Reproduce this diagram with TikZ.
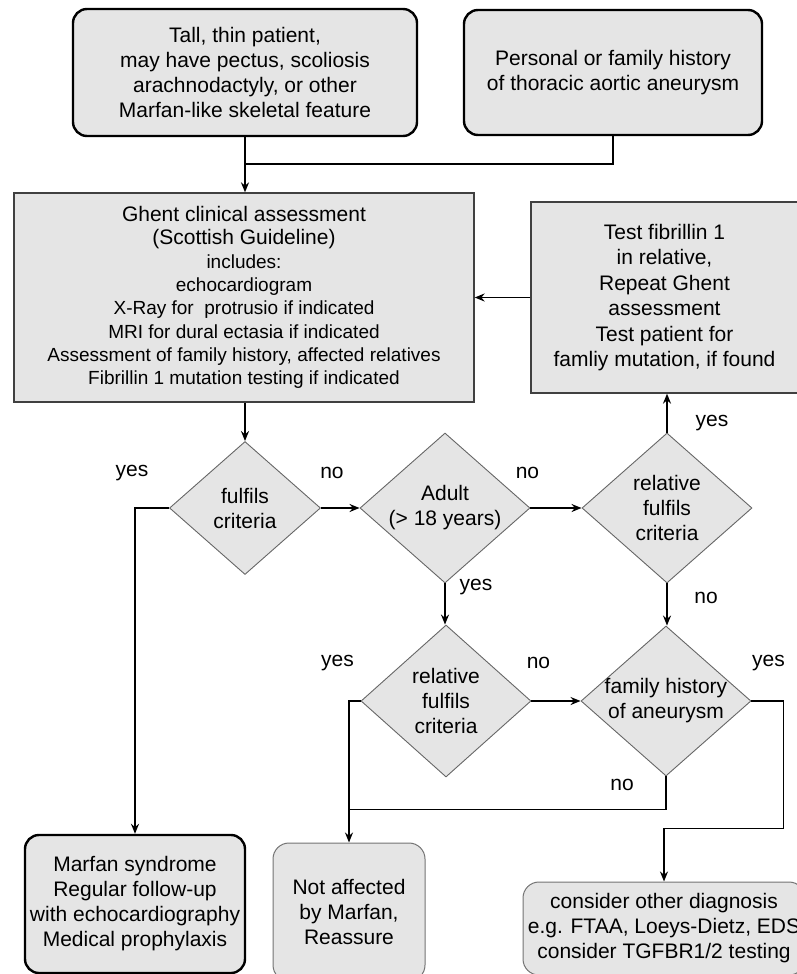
\documentclass[tikz,border=0pt]{standalone}
\usepackage{fontspec}
\setmainfont{Liberation Sans}
\usepackage{xcolor}
\usepackage{tikz}
\usetikzlibrary{arrows, arrows.meta}
\usetikzlibrary{positioning}
\usetikzlibrary{shapes.geometric}
\newcommand{\boxfont}{\fontsize{21}{25}\selectfont}
\newcommand{\listfont}{\fontsize{19}{23.3}\selectfont}
\newcommand{\headfont}{\fontsize{21}{23.3}\selectfont}
\tikzstyle{start} = [rectangle, rounded corners=14pt, draw=black, line width=2.4pt, fill=gray!20, align=center, font=\boxfont, inner sep=0pt]
\tikzstyle{process} = [rectangle, draw=black!75, line width=1.3pt, fill=gray!20, align=center, inner sep=0pt]
\tikzstyle{outcome} = [rectangle, rounded corners=16pt, draw=black!55, line width=1pt, fill=gray!20, align=center, font=\boxfont, inner sep=0pt]
\tikzstyle{decision} = [diamond, draw=black!60, line width=0.9pt, fill=gray!20, inner sep=0pt]
\tikzstyle{answer} = [font=\boxfont, inner sep=0pt]
\tikzstyle{arrow} = [line width=1.5pt, ->, >={Stealth[length=10pt, width=8pt]}]
\tikzstyle{link} = [line width=1.5pt]

\begin{document}
\begin{tikzpicture}
    \useasboundingbox (0,0) rectangle (797pt,-974pt);
    \clip (0,0) rectangle (797pt,-974pt);

    \node(tall)[start, minimum width=344pt, minimum height=127pt] at (245pt,-72.5pt){Tall, thin patient,\\may have pectus, scoliosis\\arachnodactyly, or other\\Marfan-like skeletal feature};
    \node(personal)[start, node distance=368pt, right of=tall, minimum width=298pt, minimum height=125pt]{Personal or family history\\of thoracic aortic aneurysm};
    \node(ghent)[process, node distance=225pt, below of=tall, xshift=-1pt, minimum width=460pt, minimum height=209pt, font=\listfont]{{\headfont Ghent clinical assessment}\\{\headfont (Scottish Guideline)}\\includes:\\echocardiogram\\X-Ray for~ protrusio if indicated\\MRI for dural ectasia if indicated\\Assessment of family history, affected relatives\\Fibrillin 1 mutation testing if indicated};
    \node(test)[process, node distance=420.5pt, right of=ghent, minimum width=267pt, minimum height=191pt, font=\fontsize{21}{25.4}\selectfont]{Test fibrillin 1\\in relative,\\Repeat Ghent\\assessment\\Test patient for\\famliy mutation, if found};

    \node(fulfil)[decision, node distance=210.5pt, below of=ghent, xshift=1pt, minimum width=151pt, minimum height=133pt, label={[answer, align=center]center:fulfils\\criteria}]{};
    \node(adult)[decision, node distance=200pt, right of=fulfil, minimum width=170pt, minimum height=150pt, label={[answer, align=center]center:Adult\\(> 18 years)}]{};
    \node(relone)[decision, node distance=222pt, right of=adult, minimum width=170pt, minimum height=150pt, label={[answer, align=center]center:relative\\fulfils\\criteria}]{};
    \node(reltwo)[decision, node distance=193pt, below of=adult, xshift=1pt, minimum width=170pt, minimum height=152pt, label={[answer, align=center]center:relative\\fulfils\\criteria}]{};
    \node(family)[decision, node distance=193pt, below of=relone, xshift=-1pt, minimum width=170pt, minimum height=150pt, label={[answer, align=center]center:family history\\of aneurysm}]{};

    \node(marfan)[start, node distance=396pt, below of=fulfil, xshift=-110pt, minimum width=220pt, minimum height=138pt]{Marfan syndrome\\Regular follow-up\\with echocardiography\\Medical prophylaxis};
    \node(notaff)[outcome, node distance=211pt, below of=reltwo, xshift=-97pt, minimum width=152pt, minimum height=138pt]{Not affected\\by Marfan,\\Reassure};
    \node(other)[outcome, node distance=227.5pt, below of=family, xshift=-2pt, minimum width=282pt, minimum height=93pt]{consider other diagnosis\\e.g. FTAA, Loeys-Dietz, EDS\\consider TGFBR1/2 testing};

    \draw[arrow](tall.south)--(tall.south |- ghent.north);
    \draw[link](personal.south)|-([yshift=-27pt]tall.south);
    \draw[arrow](fulfil.north |- ghent.south)--(fulfil.north);
    \draw[arrow](test.west)--(test.west -| ghent.east);

    \draw[arrow](fulfil.east)--node[answer, at start, xshift=11pt, yshift=35pt]{no}(adult.west);
    \draw[arrow](adult.east)--node[answer, at start, xshift=-3pt, yshift=35pt]{no}(relone.west);
    \draw[arrow](relone.north)--node[answer, at start, xshift=45pt, yshift=10pt]{yes}(relone.north |- test.south);
    \draw[arrow](adult.south)--node[answer, at start, xshift=31pt, yshift=-4pt]{yes}(adult.south |- reltwo.north);
    \draw[arrow](relone.south)--node[answer, at start, xshift=39pt, yshift=-14pt]{no}(relone.south |- family.north);
    \draw[arrow](reltwo.east)--node[answer, at start, xshift=7pt, yshift=38pt]{no}(family.west);

    \draw[arrow](fulfil.west)-|node[answer, at start, xshift=-37pt, yshift=35pt]{yes}(marfan.north);
    \draw[arrow](reltwo.west)-|node[answer, at start, xshift=-23pt, yshift=38pt]{yes}(notaff.north);
    \draw[link](family.south)|-node[answer, at start, xshift=-44pt, yshift=-8pt]{no}([yshift=33pt]notaff.north);
    \draw[arrow](family.east)--node[answer, at start, xshift=17pt, yshift=38pt]{yes}++(32pt,0)|-([yshift=53pt]other.north)--(other.north);
\end{tikzpicture}
\end{document}
